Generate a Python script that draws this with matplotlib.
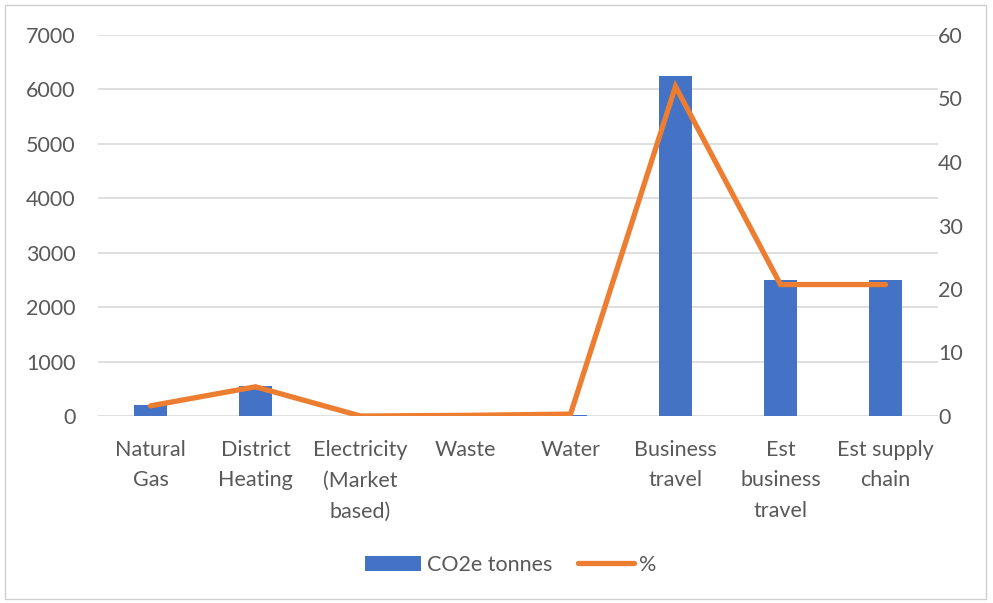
import matplotlib
matplotlib.use("Agg")
import matplotlib.pyplot as plt
import numpy as np

categories = ["Natural\nGas", "District\nHeating", "Electricity\n(Market\nbased)", "Waste",
              "Water", "Business\ntravel", "Est\nbusiness\ntravel", "Est supply\nchain"]
co2e_tonnes = [200, 555, 0, 5, 10, 6255, 2500, 2500]
percent = [1.6, 4.6, 0.0, 0.1, 0.3, 51.9, 20.7, 20.7]

bar_color = "#4472C4"
line_color = "#ED7D31"
text_color = "#595959"
grid_color = "#D9D9D9"

plt.rcParams['font.family'] = ['Lato', 'DejaVu Sans']
fs = 15.5

fig = plt.figure(figsize=(9.93, 6.03), dpi=100)
ax = fig.add_axes([98/993, 1-416/603, 840/993, 381/603])
ax2 = ax.twinx()

x = np.arange(len(categories))
bars = ax.bar(x, co2e_tonnes, width=0.31, color=bar_color, zorder=2, label="CO2e tonnes")
line, = ax2.plot(x, percent, color=line_color, linewidth=3.8, solid_capstyle='round',
                 solid_joinstyle='miter', zorder=3, label="%")

ax.set_xlim(-0.5, len(categories) - 0.5)
ax.set_ylim(0, 7000)
ax.set_yticks(np.arange(0, 7001, 1000))
ax2.set_ylim(0, 60)
ax2.set_yticks(np.arange(0, 61, 10))

ax.yaxis.grid(True, color=grid_color, linewidth=1.2, zorder=0)
ax.set_axisbelow(True)
for a in (ax, ax2):
    for s in a.spines.values():
        s.set_visible(False)
    a.tick_params(length=0, labelsize=fs, labelcolor=text_color)
ax.tick_params(axis='y', pad=16)
ax2.tick_params(axis='y', pad=0)
ax.set_xticks(x)
ax.set_xticklabels(categories, linespacing=1.68, va='top')
ax.tick_params(axis='x', pad=17)

ax.set_zorder(ax2.get_zorder() - 1)
ax.patch.set_visible(False)

fig.legend(handles=[bars, line], labels=["CO2e tonnes", "%"], loc='center',
           bbox_to_anchor=(511/993, 1-565/603), ncol=2, frameon=False,
           fontsize=fs, labelcolor=text_color, handlelength=2.6, handleheight=0.7,
           columnspacing=1.2, handletextpad=0.25)

# thin chart frame
frame = plt.Rectangle((5/993, 4/603), 981/993, 594/603, transform=fig.transFigure,
                      fill=False, edgecolor="#D0D0D0", linewidth=1.0)
fig.add_artist(frame)

fig.savefig("out.png", dpi=100, facecolor="white")
